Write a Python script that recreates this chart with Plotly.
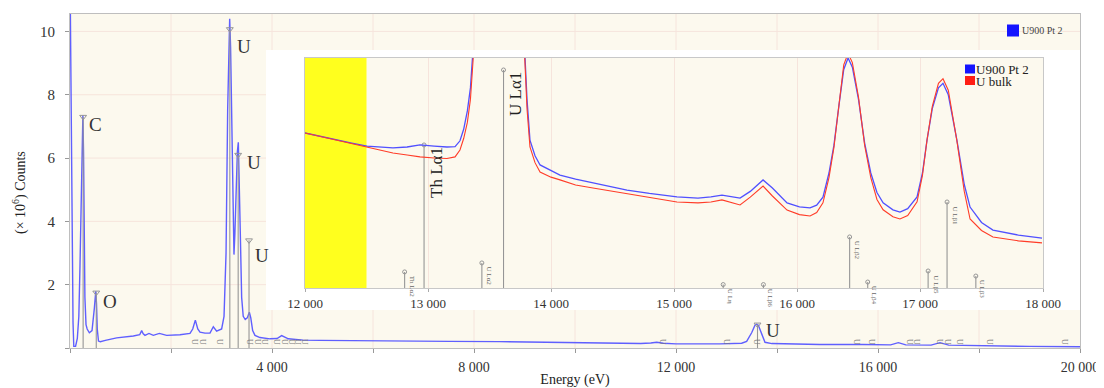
import plotly.graph_objects as go

# ---------------- DATA ----------------
# Main spectrum "U900 Pt 2": energy (eV) and counts (x 10^6)
main_energy = [0, 20, 40, 60, 75, 110, 145, 175, 198, 220, 240, 255, 268, 280, 295, 317, 340, 383, 436,
               482, 500, 510, 525, 540, 564, 600, 700, 924, 1254, 1380, 1419, 1450, 1485, 1564, 1650,
               1769, 1914, 2178, 2376, 2430, 2482, 2530, 2574, 2673, 2772, 2838, 2904, 2960, 3003,
               3050, 3090, 3122, 3145, 3162, 3180, 3201, 3218, 3234, 3247, 3265, 3290, 3314, 3333,
               3350, 3370, 3399, 3430, 3470, 3510, 3551, 3580, 3617, 3663, 3762, 3960, 4100, 4191,
               4323, 4620, 4950, 5500, 6500, 7500, 8500, 9500, 10500, 11300, 11500, 11617, 11750,
               12000, 12871, 13300, 13399, 13498, 13564, 13597, 13630, 13696, 13762, 13900, 14851,
               15700, 16250, 16403, 16550, 17050, 17228, 17400, 18000, 19000, 20000]
main_counts = [12.0, 8.0, 3.5, 0.8, 0.05, 0.05, 0.3, 1.0, 2.6, 5.0, 7.0, 7.35, 6.2, 3.6, 1.6, 0.74,
               0.6, 0.48, 0.55, 1.25, 1.6, 1.79, 1.4, 0.6, 0.22, 0.2, 0.24, 0.32, 0.38, 0.42, 0.55,
               0.45, 0.4, 0.46, 0.4, 0.46, 0.4, 0.42, 0.46, 0.6, 0.88, 0.6, 0.5, 0.47, 0.47, 0.67,
               0.53, 0.56, 0.6, 1.0, 3.0, 7.5, 9.8, 10.4, 9.5, 7.5, 5.0, 3.2, 2.95, 3.6, 5.2, 6.2,
               6.5, 5.6, 3.8, 1.6, 1.0, 0.9, 0.95, 1.13, 0.95, 0.55, 0.4, 0.33, 0.29, 0.3, 0.39,
               0.29, 0.25, 0.24, 0.23, 0.22, 0.21, 0.2, 0.18, 0.16, 0.14, 0.16, 0.18, 0.15, 0.13,
               0.13, 0.15, 0.21, 0.48, 0.72, 0.75, 0.72, 0.43, 0.18, 0.14, 0.11, 0.11, 0.1, 0.17,
               0.1, 0.09, 0.17, 0.09, 0.07, 0.05, 0.04]

# Labelled element lines in the main spectrum
main_line_energy = [260, 520, 3165, 3330, 3545, 13614]
main_line_top = [7.3, 1.75, 10.07, 6.1, 3.4, 0.74]
main_line_label = ["C", "O", "U", "U", "U", "U"]
# Small unlabeled U line markers along the baseline
minor_line_energy = [2475, 2634, 2970, 3564, 3723, 3861, 4099, 4257, 4396, 4515, 4653,
                     11743, 13010, 13604, 15584, 15881, 16634, 16772, 17228, 17386, 17624,
                     18218, 19703]

# Inset: zoom on 12-18 keV, relative counts
inset_energy = [12000, 12130, 12260, 12380, 12504, 12600, 12715, 12830, 12935, 13050, 13154,
                13220, 13260, 13290, 13320, 13345, 13366, 13390, 13450, 13614, 13760, 13789,
                13805, 13829, 13870, 13911, 14000, 14073, 14200, 14341, 14480, 14618, 14800,
                15024, 15195, 15300, 15390, 15470, 15537, 15620, 15724, 15800, 15919, 16020,
                16106, 16160, 16211, 16260, 16300, 16340, 16380, 16415, 16450, 16500, 16550,
                16600, 16650, 16700, 16780, 16837, 16900, 16976, 17020, 17057, 17100, 17150,
                17187, 17230, 17300, 17360, 17407, 17500, 17593, 17800, 17992]
inset_u900 = [67.4, 65.8, 64.3, 63.0, 61.7, 61.3, 60.9, 61.3, 62.2, 61.7, 61.3,
              61.5, 64.0, 69.0, 77.0, 87.0, 100, 118, 170, 400, 130, 100,
              82, 64.3, 57.5, 53.5, 51.0, 49.1, 47.3, 45.7, 44.1, 42.6, 41.1,
              39.6, 39.1, 39.6, 40.4, 39.6, 39.1, 42.0, 47.0, 43.5, 37.0, 35.3,
              34.8, 36.0, 39.5, 50, 62, 79, 95, 100, 96, 82, 63,
              50, 41.5, 37.0, 34.0, 33.0, 34.5, 39.6, 50, 64.3, 78, 87,
              89, 84, 64.3, 45, 35.2, 28.5, 25.2, 23.0, 21.7]
inset_bulk = [67.4, 65.8, 64.0, 62.6, 61.0, 59.8, 58.7, 57.8, 57.0, 56.5, 56.3,
              57.0, 60.0, 65.0, 72.0, 82.0, 95, 113, 165, 400, 128, 97,
              78, 61.3, 54.5, 50.4, 48.2, 47.0, 44.8, 43.5, 42.2, 40.9, 39.2,
              37.4, 37.0, 37.4, 38.3, 37.2, 36.1, 39.5, 44.3, 40.0, 33.9, 31.9,
              31.3, 32.8, 37.0, 48, 61, 79, 97, 102, 98, 83, 62,
              48, 38.5, 34.0, 31.0, 30.0, 31.5, 37.5, 49, 64.3, 79, 89,
              91, 86, 64, 42, 30.0, 25.0, 22.2, 20.5, 19.6]
highlight_start, highlight_end = 12000, 12500

inset_line_energy = [12810, 12968, 13438, 13614, 15400, 15727, 16428, 16575, 17066, 17220, 17454]
inset_line_height = [7.0, 62.2, 10.9, 94.8, 1.5, 1.5, 22.2, 2.6, 7.4, 37.4, 5.2]
inset_line_label = ["Th Lα2", "Th Lα1", "U Lα2", "U Lα1", "U Lη", "U Lβ6", "U Lβ2", "U Lβ4",
                    "U Lβ5", "U Lβ1", "U Lβ3"]
inset_major_labels = ["Th Lα1", "U Lα1"]

main_xticks = [4000, 8000, 12000, 16000, 20000]
main_xticklabels = ["4 000", "8 000", "12 000", "16 000", "20 000"]
main_yticks = [2, 4, 6, 8, 10]
main_yticklabels = ["2", "4", "6", "8", "10"]
inset_xticks = [12000, 13000, 14000, 15000, 16000, 17000, 18000]
inset_xticklabels = ["12 000", "13 000", "14 000", "15 000", "16 000", "17 000", "18 000"]

# ---------------- STYLE / LAYOUT ----------------
# The page body adds an 8 px offset; the figure is sized so that the plot area
# lands at screen x 70..1080 and y 14..348.
OFF = 8
W, H = 1104 - OFF, 388 - OFF
ML, MR, MT, MB = 70 - OFF, 24, 14 - OFF, 40
PW, PH = W - ML - MR, H - MT - MB
Y_MAX = 10.55
SERIF = "Liberation Serif, Times New Roman, serif"
BG = "rgb(252,249,238)"
GRID = "rgb(246,228,220)"
LINE_GRAY = "rgb(150,150,150)"


def px_x(p):
    """screen pixel x -> paper fraction"""
    return (p - OFF - ML) / PW


def px_y(p):
    """screen pixel y -> paper fraction"""
    return (H - MB - (p - OFF)) / PH


fig = go.Figure()

# main spectrum
fig.add_trace(go.Scatter(x=main_energy, y=main_counts, mode="lines", name="U900 Pt 2",
                         line=dict(color="rgb(95,95,255)", width=1.4),
                         xaxis="x", yaxis="y", showlegend=False))

# labelled line markers (main)
lx, ly = [], []
for e, t in zip(main_line_energy, main_line_top):
    lx += [e, e, None]
    ly += [0, t, None]
fig.add_trace(go.Scatter(x=lx, y=ly, mode="lines", line=dict(color=LINE_GRAY, width=1.1),
                         xaxis="x", yaxis="y", showlegend=False, hoverinfo="skip"))
fig.add_trace(go.Scatter(x=main_line_energy, y=main_line_top, mode="markers",
                         marker=dict(symbol="triangle-down-open", size=6, color=LINE_GRAY,
                                     line=dict(width=1)),
                         xaxis="x", yaxis="y", showlegend=False, hoverinfo="skip"))

# inset highlight band (yellow) drawn as first inset trace
fig.add_trace(go.Scatter(x=[highlight_start, highlight_end, highlight_end, highlight_start],
                         y=[0, 0, 100, 100], fill="toself", fillcolor="rgb(255,255,30)",
                         mode="none", xaxis="x2", yaxis="y2", showlegend=False, hoverinfo="skip"))

# inset line markers
ix, iy = [], []
for e, h in zip(inset_line_energy, inset_line_height):
    ix += [e, e, None]
    iy += [0, h, None]
fig.add_trace(go.Scatter(x=ix, y=iy, mode="lines", line=dict(color=LINE_GRAY, width=1.1),
                         xaxis="x2", yaxis="y2", showlegend=False, hoverinfo="skip"))
fig.add_trace(go.Scatter(x=inset_line_energy, y=inset_line_height, mode="markers",
                         marker=dict(symbol="circle-open", size=4, color=LINE_GRAY,
                                     line=dict(width=1)),
                         xaxis="x2", yaxis="y2", showlegend=False, hoverinfo="skip"))

# inset spectra
fig.add_trace(go.Scatter(x=inset_energy, y=inset_u900, mode="lines", name="U900 Pt 2",
                         line=dict(color="rgb(80,80,255)", width=1.3),
                         xaxis="x2", yaxis="y2", showlegend=False))
fig.add_trace(go.Scatter(x=inset_energy, y=inset_bulk, mode="lines", name="U bulk",
                         line=dict(color="rgb(255,60,40)", width=1.1),
                         xaxis="x2", yaxis="y2", showlegend=False))

shapes = []
# main grid (drawn as shapes below everything so the inset box hides it)
for v in range(2000, 20000, 2000):
    shapes.append(dict(type="line", xref="x", yref="paper", x0=v, x1=v, y0=0, y1=1,
                       line=dict(color=GRID, width=1), layer="below"))
for v in main_yticks:
    shapes.append(dict(type="line", xref="paper", yref="y", x0=0, x1=1, y0=v, y1=v,
                       line=dict(color=GRID, width=1), layer="below"))
# inset white panel
shapes.append(dict(type="rect", xref="paper", yref="paper", x0=px_x(266), x1=px_x(1080),
                   y0=px_y(310), y1=px_y(50), fillcolor="white", line=dict(width=0),
                   layer="below"))
# legend swatches
shapes.append(dict(type="rect", xref="paper", yref="paper", x0=px_x(1007), x1=px_x(1019),
                   y0=px_y(36.5), y1=px_y(24.5), fillcolor="rgb(20,20,255)",
                   line=dict(width=0)))
shapes.append(dict(type="rect", xref="paper", yref="paper", x0=px_x(965), x1=px_x(975),
                   y0=px_y(73.5), y1=px_y(64.5), fillcolor="rgb(20,20,255)", line=dict(width=0)))
shapes.append(dict(type="rect", xref="paper", yref="paper", x0=px_x(965), x1=px_x(975),
                   y0=px_y(85), y1=px_y(76), fillcolor="rgb(255,30,20)", line=dict(width=0)))

annotations = []
# y axis title
annotations.append(dict(x=px_x(19), y=px_y(193), xref="paper", yref="paper",
                        text="(× 10<sup>6</sup>) Counts", showarrow=False, textangle=-90,
                        xanchor="center", yanchor="middle",
                        font=dict(family=SERIF, size=14, color="#222")))
# main peak labels
label_xshift = [4, 5, 5, 7, 4, 6]
label_yshift = [-8, -9, -17, -8, -15, -6]
for e, t, lab, xs, ys in zip(main_line_energy, main_line_top, main_line_label,
                             label_xshift, label_yshift):
    annotations.append(dict(x=e, y=t, xref="x", yref="y", text=lab, showarrow=False,
                            xanchor="left", yanchor="middle", xshift=xs, yshift=ys,
                            font=dict(family=SERIF, size=19, color="#333")))
# minor line glyphs
for e in minor_line_energy:
    annotations.append(dict(x=e, y=0, xref="x", yref="y", text="U", showarrow=False,
                            textangle=90, xanchor="center", yanchor="bottom", yshift=1,
                            font=dict(family=SERIF, size=8, color="#777")))
# inset line labels
for e, h, lab in zip(inset_line_energy, inset_line_height, inset_line_label):
    if lab in inset_major_labels:
        annotations.append(dict(x=e, y=h, xref="x2", yref="y2", text=lab, showarrow=False,
                                textangle=-90, xanchor="left", yanchor="top", xshift=1,
                                yshift=0, font=dict(family=SERIF, size=17, color="#222")))
    else:
        annotations.append(dict(x=e, y=h, xref="x2", yref="y2", text=lab, showarrow=False,
                                textangle=90, xanchor="left", yanchor="top", xshift=1,
                                yshift=-2, font=dict(family=SERIF, size=7, color="#666")))
# legends
annotations.append(dict(x=px_x(1020), y=px_y(30.5), xref="paper", yref="paper",
                        text="U900 Pt 2", showarrow=False, xanchor="left", yanchor="middle",
                        font=dict(family=SERIF, size=10, color="#444")))
annotations.append(dict(x=px_x(975), y=px_y(68.5), xref="paper", yref="paper",
                        text="U900 Pt 2", showarrow=False, xanchor="left", yanchor="middle",
                        height=12, borderpad=0,
                        font=dict(family=SERIF, size=13, color="#222")))
annotations.append(dict(x=px_x(975), y=px_y(81.5), xref="paper", yref="paper",
                        text="U bulk", showarrow=False, xanchor="left", yanchor="middle",
                        height=12, borderpad=0,
                        font=dict(family=SERIF, size=13, color="#222")))

fig.update_layout(
    width=W, height=H,
    margin=dict(l=ML, r=MR, t=MT, b=MB, autoexpand=False),
    paper_bgcolor="white", plot_bgcolor=BG,
    showlegend=False,
    font=dict(family=SERIF, color="#333"),
    shapes=shapes, annotations=annotations,
    xaxis=dict(range=[0, 20000], tickvals=main_xticks, ticktext=main_xticklabels,
               ticks="outside", ticklen=4, tickcolor="#999", showgrid=False, zeroline=False,
               minor=dict(tick0=0, dtick=2000, ticks="outside", ticklen=4, tickcolor="#999",
                          showgrid=False),
               showline=True, linecolor="rgb(190,190,190)", mirror=True, automargin=False,
               ticklabelstandoff=2, ticklabeloverflow="allow",
               tickfont=dict(family=SERIF, size=14, color="#333"),
               title=dict(text="Energy (eV)", font=dict(family=SERIF, size=14, color="#222"),
                          standoff=4)),
    yaxis=dict(range=[0, Y_MAX], tickvals=main_yticks, ticktext=main_yticklabels,
               ticks="outside", ticklen=4, tickcolor="#999", showgrid=False, zeroline=False,
               minor=dict(tick0=0, dtick=2, ticks="outside", ticklen=4, tickcolor="#999",
                          showgrid=False),
               showline=True, linecolor="rgb(190,190,190)", mirror=True, automargin=False,
               ticklabelstandoff=7,
               tickfont=dict(family=SERIF, size=15, color="#333")),
    xaxis2=dict(domain=[px_x(305), px_x(1043)], anchor="y2", range=[12000, 18000],
                tickvals=inset_xticks, ticktext=inset_xticklabels, ticks="outside",
                ticklen=3, tickcolor="#aaa", showgrid=True, gridcolor=GRID, zeroline=False,
                showline=True, linecolor="rgb(200,200,200)", mirror=True, automargin=False,
                tickfont=dict(family=SERIF, size=13, color="#333")),
    yaxis2=dict(domain=[px_y(288), px_y(58)], anchor="x2", range=[0, 100],
                showticklabels=False, ticks="", showgrid=False, zeroline=False,
                showline=True, linecolor="rgb(200,200,200)", mirror=True, automargin=False),
)

fig.write_html("out.html")
